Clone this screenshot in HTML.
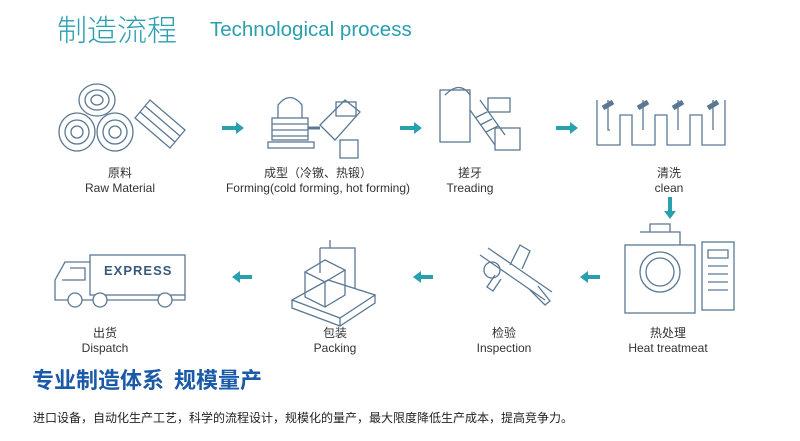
<!DOCTYPE html>
<html><head><meta charset="utf-8"><style>
body{margin:0;width:800px;height:441px;background:#fff;position:relative;overflow:hidden;font-family:"Liberation Sans","Noto Sans CJK SC",sans-serif}
.a{position:absolute;white-space:nowrap}
.lb{position:absolute;text-align:center;font-size:12px;color:#333;line-height:15px;transform:translateX(-50%)}
svg{position:absolute;left:0;top:0}
</style></head><body>
<div class="a" style="left:57px;top:6px;font-size:30px;color:#2a9fb0;font-family:'Noto Sans CJK SC',sans-serif;font-weight:300">制造流程</div>
<div class="a" style="left:210px;top:18px;font-size:20.5px;color:#2a9fb0">Technological process</div>

<svg width="800" height="441" fill="none" stroke="#5a7894" stroke-width="1.3">
<g>
<ellipse cx="97" cy="100" rx="18" ry="16"/><ellipse cx="97" cy="100" rx="12" ry="10"/><ellipse cx="97" cy="100" rx="6" ry="5"/>
<ellipse cx="77" cy="132" rx="18" ry="19"/><ellipse cx="77" cy="132" rx="12" ry="12"/><ellipse cx="77" cy="132" rx="6" ry="6"/>
<ellipse cx="115" cy="132" rx="18" ry="19"/><ellipse cx="115" cy="132" rx="12" ry="12"/><ellipse cx="115" cy="132" rx="6" ry="6"/>
<path d="M135 118 L150 100 L185 130 L170 148 Z M140 112 L175 142 M145 106 L180 136"/>
</g>
<g>
<path d="M278 118 V105 Q290 90 302 105 V118"/><rect x="272" y="118" width="36" height="22"/><path d="M272 124h36M272 130h36M272 136h36"/><rect x="268" y="142" width="46" height="6"/>
<path d="M320 125 L345 100 L360 112 L335 140 Z"/><rect x="336" y="102" width="20" height="14"/><rect x="340" y="140" width="18" height="18"/>
<path d="M308 128h12" stroke-width="3"/>
</g>
<g>
<rect x="440" y="90" width="30" height="52"/><path d="M445 95 Q460 80 470 95"/><path d="M470 110 L495 145 M480 100 L505 135 M475 118l12-6M480 125l12-6M486 132l12-6"/><rect x="495" y="128" width="25" height="22"/><rect x="488" y="98" width="22" height="14"/>
</g>
<path d="M597 100 V145 H620 V115 H632 V145 H655 V115 H667 V145 H690 V115 H702 V145 H725 V100 M608 100 V130 H610 M643 100 V130 M678 100 V130 M713 100 V130"/>
<path d="M603 108l10-6M638 108l10-6M673 108l10-6M708 108l10-6" stroke-width="5"/>
<g>
<rect x="625" y="245" width="70" height="68"/><circle cx="660" cy="272" r="20"/><circle cx="660" cy="272" r="14"/><path d="M640 232h40v13M650 232v-8h20v8"/><rect x="702" y="242" width="32" height="68"/><path d="M708 250h20v8h-20zM708 266h20M708 274h20M708 282h20M708 290h20"/>
</g>
<g><path d="M480 255 L545 300 M488 248 L552 292 M510 265 l10-20 10 6 -8 18 M495 275 l-8 12 6 4 8-12"/><circle cx="492" cy="270" r="8"/><path d="M530 290 l15 15 5-4 -12-15"/></g>
<g><path d="M292 300 L340 318 L375 295 L328 280 Z M292 300 v8 L340 326 L375 303 v-8 M340 318v8"/><path d="M305 272 L325 282 L345 270 L325 260 Z M305 272v25 l20 10 v-25 M345 270v25 l-20 12"/><path d="M320 248v25M320 248h35v40M330 248v-8"/></g>
<g><rect x="90" y="255" width="95" height="40"/><path d="M90 262 H65 L55 280 V300 H185 V295"/><path d="M70 268 h15 v12 H62"/><circle cx="75" cy="300" r="7" fill="#fff"/><circle cx="100" cy="300" r="7" fill="#fff"/><circle cx="165" cy="300" r="7" fill="#fff"/></g>
<g fill="#2a9fb0" stroke="none">
<path d="M222 126h14v-4l8 6-8 6v-4h-14z"/><path d="M400 126h14v-4l8 6-8 6v-4h-14z"/><path d="M556 126h14v-4l8 6-8 6v-4h-14z"/>
<path d="M668 197h4v14h4l-6 8-6-8h4z"/>
<path d="M252 275h-12v-4l-8 6 8 6v-4h12z"/><path d="M433 275h-12v-4l-8 6 8 6v-4h12z"/><path d="M600 275h-12v-4l-8 6 8 6v-4h12z"/>
</g>
</svg>
<div class="a" style="left:104px;top:263px;font-size:13px;font-weight:bold;color:#3a5a7a;letter-spacing:1px">EXPRESS</div>

<div class="lb" style="left:120px;top:166px">原料<br>Raw Material</div>
<div class="lb" style="left:318px;top:166px">成型（冷镦、热锻）<br>Forming(cold forming, hot forming)</div>
<div class="lb" style="left:470px;top:166px">搓牙<br>Treading</div>
<div class="lb" style="left:669px;top:166px">清洗<br>clean</div>
<div class="lb" style="left:105px;top:326px">出货<br>Dispatch</div>
<div class="lb" style="left:335px;top:326px">包装<br>Packing</div>
<div class="lb" style="left:504px;top:326px">检验<br>Inspection</div>
<div class="lb" style="left:668px;top:326px">热处理<br>Heat treatmeat</div>

<div class="a" style="left:32px;top:363px;font-size:22px;font-weight:bold;color:#1b5aa8;font-family:'Noto Sans CJK SC',sans-serif">专业制造体系 &nbsp;规模量产</div>
<div class="a" style="left:33px;top:409px;font-size:12px;color:#222;font-family:'Noto Sans CJK SC',sans-serif">进口设备，自动化生产工艺，科学的流程设计，规模化的量产，最大限度降低生产成本，提高竞争力。</div>
</body></html>
